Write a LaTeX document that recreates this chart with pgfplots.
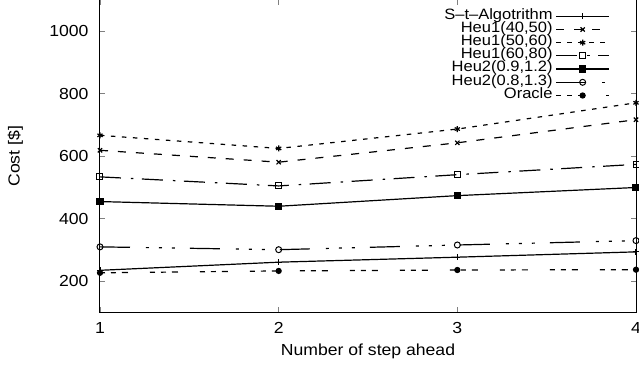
\documentclass[border=0pt]{standalone}
\usepackage{pgfplots}
\pgfplotsset{compat=1.18}
\usepackage{fontspec}
\setmainfont{Liberation Sans}[FakeStretch=1.1]
\begin{document}
\fontsize{16pt}{19pt}\selectfont
\begin{tikzpicture}
\begin{axis}[
  scale only axis, width=536pt, height=312.5pt,
  xmin=1, xmax=4, ymin=100, ymax=1100,
  xtick={1,2,3,4}, ytick={200,400,600,800,1000},
  tick align=inside, major tick length=5pt,
  tick style={gray, line width=0.8pt},
  axis line style={black, line width=1pt},
  /pgf/number format/assume math mode=true,
  /pgf/number format/1000 sep={},
  ticklabel style={font=\fontsize{16pt}{19pt}\selectfont},
  xticklabel style={yshift=-4.4pt},
  yticklabel style={xshift=-6pt},
  xlabel={Number of step ahead}, ylabel={Cost [\$]},
  label style={font=\fontsize{16pt}{19pt}\selectfont},
  xlabel style={at={(axis description cs:0.5,-0.1389)}, anchor=base},
  ylabel style={at={(axis description cs:-0.158,0.5)}, anchor=center},
  legend style={draw=none, fill=none, at={(0.957,0.976)}, anchor=north east,
    legend cell align=right, font=\fontsize{15pt}{15pt}\selectfont,
    row sep=0pt, column sep=3pt,
    nodes={inner sep=0pt, text height=9.5pt, text depth=3.7pt}},
  legend plot pos=right,
  legend image code/.code={\draw[mark repeat=2,mark phase=2] plot coordinates {(0pt,0pt)(26.5pt,0pt)(53pt,0pt)};},
]
\addplot[black, line width=1.2pt, solid, mark=+, mark size=3pt, mark options={solid}] coordinates {(1,235)(2,261)(3,277)(4,294)};
\addlegendentry{S--t--Algotrithm}
\addplot[black, line width=1.2pt, dash pattern=on 8pt off 10pt, mark=x, mark size=3pt, mark options={solid}] coordinates {(1,619)(2,581)(3,643)(4,717)};
\addlegendentry{Heu1(40,50)}
\addplot[black, line width=1.2pt, dash pattern=on 4.5pt off 6.5pt, mark=asterisk, mark size=3pt, mark options={solid}] coordinates {(1,667)(2,625)(3,687)(4,771)};
\addlegendentry{Heu1(50,60)}
\addplot[black, line width=1.2pt, dash pattern=on 21pt off 10pt on 2.5pt off 8.5pt, mark=square, mark size=3pt, mark options={solid, line width=1pt}] coordinates {(1,534)(2,505)(3,541)(4,574)};
\addlegendentry{Heu1(60,80)}
\addplot[black, line width=1.2pt, solid, mark=square*, mark size=3pt, mark options={solid}] coordinates {(1,455)(2,440)(3,474)(4,500)};
\addlegendentry{Heu2(0.9,1.2)}
\addplot[black, line width=1.2pt, dash pattern=on 30pt off 16pt on 3pt off 10pt on 3pt off 10pt on 3pt off 15pt, mark=o, mark size=3pt, mark options={solid, line width=1pt}] coordinates {(1,310)(2,301)(3,316)(4,330)};
\addlegendentry{Heu2(0.8,1.3)}
\addplot[black, line width=1.2pt, dash pattern=on 5pt off 6pt on 5pt off 6pt on 6pt off 22pt, mark=*, mark size=2.5pt, mark options={solid}] coordinates {(1,227)(2,233)(3,236)(4,237)};
\addlegendentry{Oracle}
\end{axis}
\pgfresetboundingbox
\path[use as bounding box] ([xshift=-100pt,yshift=-53.7pt]current axis.south west) rectangle ([xshift=3pt]current axis.north east);
\end{tikzpicture}
\end{document}
